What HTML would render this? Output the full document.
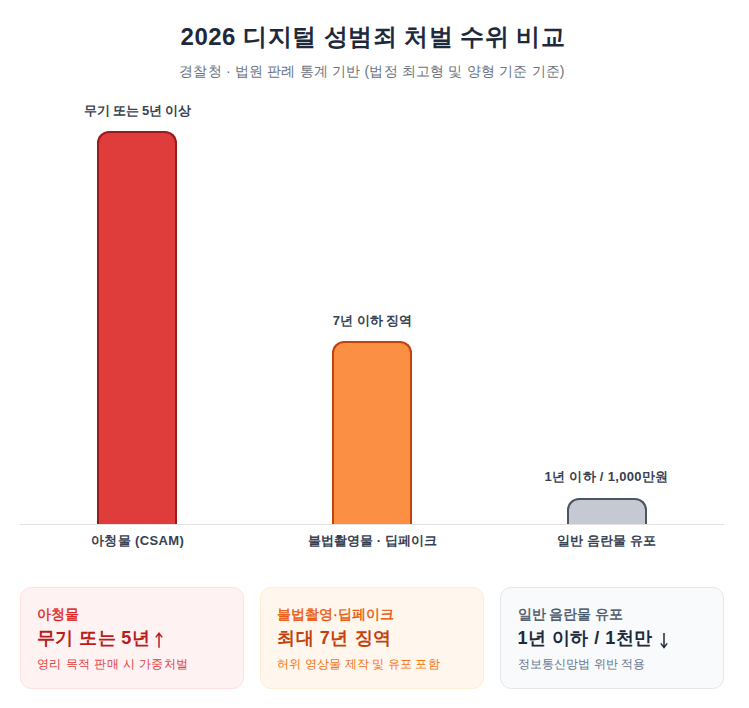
<!DOCTYPE html>
<html lang="ko">
<head>
<meta charset="utf-8">
<title>2026 디지털 성범죄 처벌 수위 비교</title>
<style>
*{box-sizing:border-box;margin:0;padding:0}
html,body{width:749px;height:708px;overflow:hidden;background:#ffffff}
body{font-family:"Liberation Sans",sans-serif;position:relative;color:#1e293b}
.t{position:absolute;white-space:nowrap;line-height:1}
.c{text-align:center}
#title{left:21px;width:704px;top:25px;font-size:24px;font-weight:700;color:#1e293b;letter-spacing:0.48px}
#sub{left:20px;width:704px;top:64px;font-size:14px;font-weight:400;color:#6b7280;letter-spacing:0.18px}
.lbl{font-size:13px;font-weight:700;color:#374151;width:235px}
.bar{position:absolute;width:80px;border:2px solid;border-bottom:none;border-radius:12px 12px 0 0}
#b1{left:97px;top:131px;height:393px;background:#df3c3c;border-color:#991b1b}
#b2{left:332px;top:341px;height:183px;background:#fb8f44;border-color:#c2410c}
#b3{left:567px;top:498px;height:26px;background:#c5c9d1;border-color:#4b5563}
#axis{position:absolute;left:20px;top:524px;width:704px;height:1px;background:#e3e3e3}
.card{position:absolute;top:587px;width:224px;height:102px;border:1px solid;border-radius:11px}
#c1{left:20px;background:#fef2f2;border-color:#fee2e2}
#c2{left:260px;background:#fff7ed;border-color:#ffedd5}
#c3{left:500px;background:#f9fafb;border-color:#e5e7eb}
.ck{font-size:14px;font-weight:400;-webkit-text-stroke:0.4px currentColor}
.cv{font-size:18px;font-weight:700}
.cd{font-size:12px;font-weight:400}
</style>
</head>
<body>
<div class="t c" id="title">2026 디지털 성범죄 처벌 수위 비교</div>
<div class="t c" id="sub">경찰청 · 법원 판례 통계 기반 (법정 최고형 및 양형 기준 기준)</div>

<div class="t c lbl" style="left:20px;top:104px;letter-spacing:-0.19px">무기 또는 5년 이상</div>
<div class="t c lbl" style="left:255px;top:314px">7년 이하 징역</div>
<div class="t c lbl" style="left:489px;top:470px;letter-spacing:0.33px">1년 이하 / 1,000만원</div>

<div class="bar" id="b1"></div>
<div class="bar" id="b2"></div>
<div class="bar" id="b3"></div>
<div id="axis"></div>

<div class="t c lbl" style="left:20px;top:534px;letter-spacing:0.4px">아청물 (CSAM)</div>
<div class="t c lbl" style="left:255px;top:534px">불법촬영물 · 딥페이크</div>
<div class="t c lbl" style="left:489px;top:534px">일반 음란물 유포</div>

<div class="card" id="c1"></div>
<div class="card" id="c2"></div>
<div class="card" id="c3"></div>

<div class="t ck" style="left:37px;top:607px;color:#dc2626;letter-spacing:0px">아청물</div>
<div class="t cv" style="left:37px;top:628.5px;color:#b91c1c;letter-spacing:0.38px">무기 또는 5년</div>
<div class="t cd" style="left:37px;top:657.5px;color:#e53e3e;letter-spacing:0.42px">영리 목적 판매 시 가중처벌</div>

<div class="t ck" style="left:277px;top:607px;color:#ea580c;letter-spacing:0px">불법촬영·딥페이크</div>
<div class="t cv" style="left:277px;top:628.5px;color:#c2410c;letter-spacing:0.6px">최대 7년 징역</div>
<div class="t cd" style="left:277px;top:658px;color:#f97316;letter-spacing:0.12px">허위 영상물 제작 및 유포 포함</div>

<div class="t ck" style="left:517.5px;top:607px;color:#475569;letter-spacing:0px">일반 음란물 유포</div>
<div class="t cv" style="left:517.5px;top:629px;color:#1e293b;letter-spacing:0.46px">1년 이하 / 1천만</div>
<div class="t cd" style="left:517.5px;top:657.5px;color:#64748b;letter-spacing:0.1px">정보통신망법 위반 적용</div>
<svg class="ar" style="position:absolute;left:155px;top:632px" width="8" height="17" viewBox="0 0 8 17"><path d="M4 1.2V15.8M0.8 5.4L4 1.2L7.2 5.4" fill="none" stroke="#b91c1c" stroke-width="1.5"/></svg>
<svg class="ar" style="position:absolute;left:660px;top:632px" width="8" height="17" viewBox="0 0 8 17"><path d="M4 1V15.8M0.8 11.4L4 15.6L7.2 11.4" fill="none" stroke="#1e293b" stroke-width="1.5"/></svg>
</body>
</html>
